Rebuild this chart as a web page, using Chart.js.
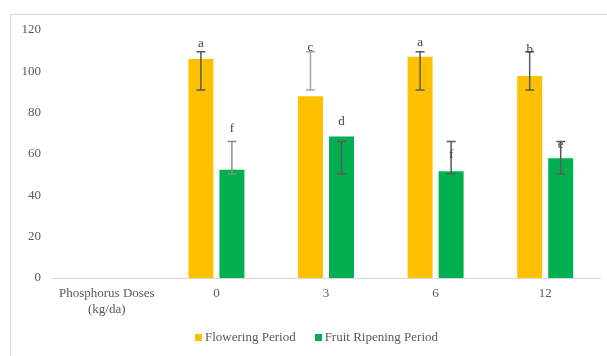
<!DOCTYPE html>
<html>
<head>
<meta charset="utf-8">
<script src="https://cdn.jsdelivr.net/npm/chart.js@4.4.0/dist/chart.umd.min.js"></script>
<style>
  body { margin: 0; background: #fff; }
  #wrap { position: relative; width: 607px; height: 356px; overflow: hidden; }
  #frame { position: absolute; left: 10px; top: 14px; width: 640px; height: 400px; border: 1px solid #d9d9d9; }
  #c { position: absolute; left: 0; top: 0; }
  #legend { position: absolute; top: 329px; left: 195px; font: 13px "Liberation Serif", "Times New Roman", serif; color: #595959; white-space: nowrap; }
  #legend span.item { display: inline-block; margin-right: 19px; }
  #legend i { display: inline-block; width: 7px; height: 7px; margin-right: 3px; vertical-align: 0px; }
</style>
</head>
<body>
<div id="wrap">
  <div id="frame"></div>
  <canvas id="c" width="607" height="356"></canvas>
  <div id="legend"></div>
</div>
<script>
// Categories and values
const doses = [['Phosphorus Doses', '(kg/da)'], '0', '3', '6', '12'];
const flowering = [null, 106, 88, 107, 97.7];
const ripening = [null, 52.4, 68.5, 51.6, 57.9];

// error bar ranges (low / high)
const floweringLow = [null, 91, 91, 91, 91];
const floweringHigh = [null, 109.5, 109.5, 109.5, 109.5];
const ripeningLow = [null, 50.3, 50.3, 50.3, 50.3];
const ripeningHigh = [null, 66, 66, 66, 66];

// significance letters and where they sit (in axis units)
const floweringLetters = [null, 'a', 'c', 'a', 'b'];
const floweringLetterY = [null, 113.2, 111.3, 113.7, 110.3];
const ripeningLetters = [null, 'f', 'd', 'f', 'e'];
const ripeningLetterY = [null, 72.1, 75.5, 59.5, 64.8];

const serif = '"Liberation Serif", "Times New Roman", serif';

// Draw error bars and letters
const errorBars = {
    id: 'errorBars',
    afterDatasetsDraw(chart) {
        const ctx = chart.ctx;
        const y = chart.scales.y;
        chart.data.datasets.forEach((ds, di) => {
            const meta = chart.getDatasetMeta(di);
            meta.data.forEach((bar, i) => {
                if (ds.data[i] == null) return;
                const x = bar.x;
                const yl = y.getPixelForValue(ds.errLow[i]);
                const yh = y.getPixelForValue(ds.errHigh[i]);
                ctx.save();
                ctx.strokeStyle = ds.errColor[i];
                ctx.lineWidth = 1.5;
                ctx.beginPath();
                ctx.moveTo(x, yl); ctx.lineTo(x, yh);
                ctx.moveTo(x - 4.5, yl); ctx.lineTo(x + 4.5, yl);
                ctx.moveTo(x - 4.5, yh); ctx.lineTo(x + 4.5, yh);
                ctx.stroke();
                ctx.fillStyle = '#404040';
                ctx.font = '13px ' + serif;
                ctx.textAlign = 'center';
                ctx.textBaseline = 'middle';
                ctx.fillText(ds.letters[i], x, y.getPixelForValue(ds.letterY[i]));
                ctx.restore();
            });
        });
    }
};

const chart = new Chart(document.getElementById('c'), {
    type: 'bar',
    data: {
        labels: doses,
        datasets: [
            {
                label: 'Flowering Period', data: flowering, backgroundColor: '#FFC000',
                errLow: floweringLow, errHigh: floweringHigh,
                letters: floweringLetters, letterY: floweringLetterY,
                errColor: ['#595959', '#595959', '#a6a6a6', '#595959', '#595959']
            },
            {
                label: 'Fruit Ripening Period', data: ripening, backgroundColor: '#00B050',
                errLow: ripeningLow, errHigh: ripeningHigh,
                letters: ripeningLetters, letterY: ripeningLetterY,
                errColor: ['#595959', '#8c8c8c', '#595959', '#595959', '#595959']
            }
        ]
    },
    options: {
        responsive: false,
        animation: false,
        categoryPercentage: 0.566,
        barPercentage: 0.806,
        layout: { padding: { top: 30, right: 7, left: 0, bottom: 0 } },
        plugins: { legend: { display: false }, tooltip: { enabled: false } },
        scales: {
            x: {
                grid: { display: false, drawTicks: false },
                border: { display: true, color: '#d9d9d9', width: 1 },
                ticks: { color: '#595959', font: { family: serif, size: 13 }, padding: 8, maxRotation: 0, autoSkip: false },
                afterFit: s => { s.height = 78; }
            },
            y: {
                min: 0, max: 120,
                grid: { display: false, drawTicks: false },
                border: { display: false },
                ticks: { stepSize: 20, color: '#595959', font: { family: serif, size: 13 }, padding: 11 },
                afterFit: s => { s.width = 52; }
            }
        }
    },
    plugins: [errorBars]
});

// HTML legend from the datasets
document.getElementById('legend').innerHTML = chart.data.datasets.map(d =>
    `<span class="item"><i style="background:${d.backgroundColor}"></i>${d.label}</span>`).join('');
</script>
</body>
</html>
